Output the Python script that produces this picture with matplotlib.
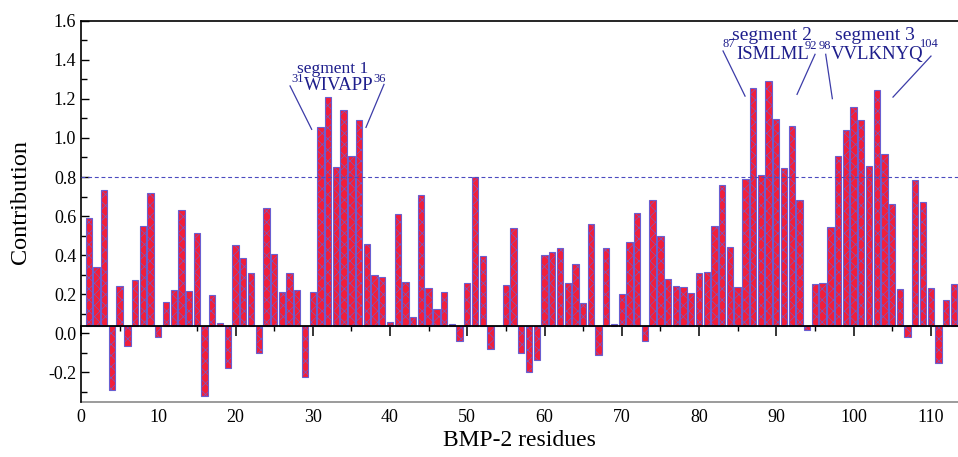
import numpy as np
import matplotlib
matplotlib.use("Agg")
import matplotlib.pyplot as plt
from matplotlib.ticker import MultipleLocator

plt.rcParams['font.family'] = ['Liberation Serif', 'DejaVu Serif']
plt.rcParams['hatch.linewidth'] = 0.45

residues = list(range(1, 114))
contribution = [
    0.59, 0.337, 0.734, -0.29, 0.242, -0.063, 0.274, 0.551, 0.717, -0.018,
    0.16, 0.22, 0.633, 0.218, 0.514, -0.319, 0.194, 0.052, -0.175, 0.454,
    0.385, 0.31, -0.10, 0.642, 0.406, 0.211, 0.309, 0.222, -0.225, 0.214,
    1.054, 1.21, 0.85, 1.145, 0.905, 1.093, 0.457, 0.296, 0.29, 0.06,
    0.61, 0.262, 0.086, 0.71, 0.233, 0.124, 0.213, 0.047, -0.038, 0.259,
    0.80, 0.394, -0.078, 0.04, 0.249, 0.541, -0.10, -0.20, -0.136, 0.40,
    0.418, 0.435, 0.26, 0.355, 0.156, 0.561, -0.11, 0.435, 0.049, 0.20,
    0.468, 0.616, -0.037, 0.681, 0.50, 0.28, 0.242, 0.236, 0.208, 0.307,
    0.315, 0.55, 0.76, 0.44, 0.237, 0.792, 1.257, 0.811, 1.29, 1.095,
    0.845, 1.059, 0.68, 0.018, 0.25, 0.256, 0.543, 0.909, 1.042, 1.158,
    1.09, 0.855, 1.247, 0.92, 0.662, 0.225, -0.02, 0.784, 0.674, 0.23,
    -0.153, 0.168, 0.254,
]
baseline = 0.04
threshold = 0.8
x_ticks = list(range(0, 111, 10))
y_ticks = [-0.2, 0.0, 0.2, 0.4, 0.6, 0.8, 1.0, 1.2, 1.4, 1.6]

YMIN, YMAX = -0.35, 1.6
XMIN, XMAX = 0, 113.5

fig = plt.figure(figsize=(9.58, 4.57), dpi=100)
ax = fig.add_axes([81/958, (457-401.7)/457, (957.8-81)/958, (401.7-20.7)/457])

heights = [v - baseline for v in contribution]
ax.bar(residues, heights, bottom=baseline, width=0.82,
       color='#F21E3A', edgecolor='#6A5ED0', linewidth=0.8, hatch='xxx', zorder=2)

ax.axhline(threshold, color='#4A4AC0', linestyle=(0, (3.5, 2.5)), linewidth=0.8, zorder=3)

ax.set_xlim(XMIN, XMAX)
ax.set_ylim(YMIN, YMAX)

# main x axis drawn at baseline with ticks (no labels)
ax.spines['bottom'].set_position(('data', baseline))
ax.spines['bottom'].set_linewidth(1.3)
ax.spines['bottom'].set_zorder(4)
ax.set_xticks(x_ticks)
ax.xaxis.set_minor_locator(MultipleLocator(5))
ax.tick_params(axis='x', which='major', direction='out', length=7, width=1.1, labelbottom=False)
ax.tick_params(axis='x', which='minor', direction='out', length=3.5, width=1.0)

# label axis at the bottom
sec = ax.secondary_xaxis(0.0)
sec.set_xticks(x_ticks)
sec.tick_params(axis='x', length=0, pad=5, labelsize=13)
sec.spines['bottom'].set_color('#8a8a8a')
sec.spines['bottom'].set_linewidth(1.2)

ax.set_xlabel('BMP-2 residues', fontsize=17, va='center')
ax.xaxis.set_label_coords(0.5, -0.103)

ax.set_yticks(y_ticks)
ax.set_yticklabels([f'{t:.1f}' for t in y_ticks])
ax.yaxis.set_minor_locator(MultipleLocator(0.1))
ax.tick_params(axis='y', which='major', direction='in', length=6, width=1.0, labelsize=13)
ax.tick_params(axis='y', which='minor', direction='in', length=4, width=1.0)
ax.set_ylabel('Contribution', fontsize=17.5)
ax.yaxis.set_label_coords(-0.057, 0.525)

ax.spines['right'].set_visible(False)
ax.spines['left'].set_linewidth(1.2)
ax.spines['top'].set_linewidth(1.2)

tc = '#1E1E8C'
lc = '#3C3CA8'
seq_fs = 13.5
sup_fs = 9

# segment 1
ax.text(32.62, 1.355, 'segment 1', color=tc, fontsize=12.5, ha='center', va='center')
ax.text(33.33, 1.269, 'WIVAPP', color=tc, fontsize=seq_fs, ha='center', va='center')
ax.text(28.0, 1.300, '31', color=tc, fontsize=sup_fs, ha='center', va='center')
ax.text(38.6, 1.300, '36', color=tc, fontsize=sup_fs, ha='center', va='center')
ax.plot([27.06, 29.86], [1.266, 1.044], color=lc, lw=0.9)
ax.plot([39.22, 36.89], [1.274, 1.054], color=lc, lw=0.9)

# segment 2
ax.text(89.39, 1.526, 'segment 2', color=tc, fontsize=14, ha='center', va='center')
ax.text(89.51, 1.428, 'ISMLML', color=tc, fontsize=seq_fs, ha='center', va='center')
ax.text(83.82, 1.479, '87', color=tc, fontsize=sup_fs, ha='center', va='center')
ax.text(95.35, 1.469, '92', color=tc, fontsize=sup_fs, ha='right', va='center')
ax.plot([83.11, 85.96], [1.445, 1.214], color=lc, lw=0.9)
ax.plot([95.02, 92.69], [1.428, 1.223], color=lc, lw=0.9)

# segment 3
ax.text(102.72, 1.526, 'segment 3', color=tc, fontsize=14, ha='center', va='center')
ax.text(103.04, 1.428, 'VVLKNYQ', color=tc, fontsize=seq_fs, ha='center', va='center')
ax.text(95.45, 1.469, '98', color=tc, fontsize=sup_fs, ha='left', va='center')
ax.text(109.84, 1.479, '104', color=tc, fontsize=sup_fs, ha='center', va='center')
ax.plot([96.40, 97.26], [1.428, 1.201], color=lc, lw=0.9)
ax.plot([110.03, 105.11], [1.419, 1.209], color=lc, lw=0.9)

fig.savefig('out.png', dpi=100)
